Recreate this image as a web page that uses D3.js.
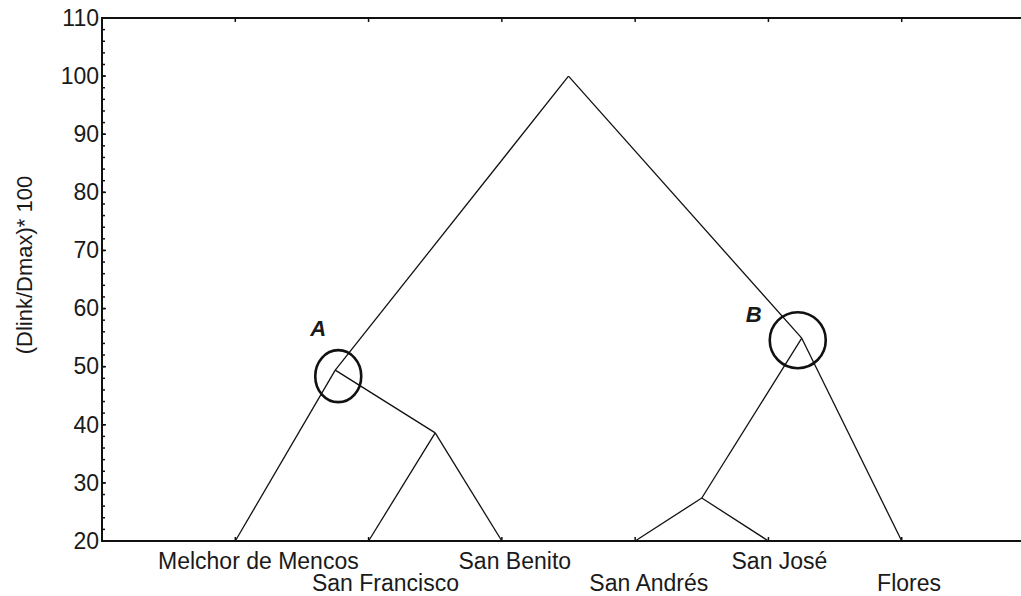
<!DOCTYPE html>
<html>
<head>
<meta charset="utf-8">
<script src="https://cdn.jsdelivr.net/npm/d3@7"></script>
<style>
  html, body { margin: 0; padding: 0; background: #fff; }
  svg { display: block; }
  text { font-family: "Liberation Sans", Arial, Helvetica, sans-serif; fill: #1a1a1a; }
</style>
</head>
<body>
<svg id="chart" width="1021" height="596"></svg>
<script>
// Leaves of the dendrogram, left to right
const categories = ["Melchor de Mencos", "San Francisco", "San Benito", "San Andrés", "San José", "Flores"];

// Linkage steps: cluster ids 0-5 are leaves, each merge creates id 6, 7, ...
const mergeLeft   = [1, 3, 0, 7, 8];
const mergeRight  = [2, 4, 6, 5, 9];
const mergeHeight = [38.6, 27.4, 49.4, 54.9, 100];

// Axis ticks
const yTicks = [20, 30, 40, 50, 60, 70, 80, 90, 100, 110];
const yMinorTicks = d3.range(20, 110.1, 2);

// Annotated clusters (merge index) and their letters
const markedMerges = [2, 3];
const markLetters  = ["A", "B"];

const svg = d3.select("#chart");
const plotLeft = 102, plotTop = 18, plotBottom = 541, plotRight = 1035;
const fontSize = 23;

const x = d3.scaleLinear().domain([0, categories.length + 1]).range([plotLeft, plotRight]);
const y = d3.scaleLinear().domain([20, 110]).range([plotBottom, plotTop]);

// Node positions: leaves sit on the baseline, merges at the midpoint of their children
const nodes = categories.map((c, i) => ({ x: i + 1, h: 20 }));
mergeLeft.forEach((a, i) => {
  const b = mergeRight[i];
  nodes.push({ x: (nodes[a].x + nodes[b].x) / 2, h: mergeHeight[i], a, b });
});

// Plot frame
svg.append("rect")
  .attr("x", plotLeft).attr("y", plotTop)
  .attr("width", plotRight - plotLeft).attr("height", plotBottom - plotTop)
  .attr("fill", "none").attr("stroke", "#111").attr("stroke-width", 2);

// Y axis: labelled major ticks and inward minor ticks
const yAxis = svg.append("g").attr("transform", `translate(${plotLeft},0)`);
yAxis.selectAll("line.minor").data(yMinorTicks).join("line")
  .attr("class", "minor")
  .attr("x1", 0).attr("x2", 3)
  .attr("y1", d => y(d)).attr("y2", d => y(d))
  .attr("stroke", "#111").attr("stroke-width", 1.5);
yAxis.selectAll("line.major").data(yTicks).join("line")
  .attr("class", "major")
  .attr("x1", -1).attr("x2", 4)
  .attr("y1", d => y(d)).attr("y2", d => y(d))
  .attr("stroke", "#111").attr("stroke-width", 1.5);
yAxis.selectAll("text").data(yTicks).join("text")
  .attr("x", -3).attr("y", d => y(d) + 7.8)
  .attr("text-anchor", "end")
  .attr("font-size", fontSize)
  .text(d => d);

// Category ticks on the bottom and top edges
const catIdx = categories.map((c, i) => i + 1);
svg.append("g").selectAll("line").data(catIdx).join("line")
  .attr("x1", d => x(d)).attr("x2", d => x(d))
  .attr("y1", plotBottom).attr("y2", plotBottom - 4)
  .attr("stroke", "#111").attr("stroke-width", 1.5);
svg.append("g").selectAll("line").data(catIdx).join("line")
  .attr("x1", d => x(d)).attr("x2", d => x(d))
  .attr("y1", plotTop).attr("y2", plotTop + 4)
  .attr("stroke", "#111").attr("stroke-width", 1.5);

// Category labels in two staggered rows
const catLabels = svg.append("g").selectAll("text").data(categories).join("text")
  .attr("font-size", fontSize)
  .attr("y", (d, i) => i % 2 === 0 ? 569 : 591)
  .text(d => d);
catLabels.attr("x", function (d, i) {
  return x(i + 1) - 0.385 * this.getComputedTextLength();
});

// Y axis title
svg.append("text")
  .attr("transform", "translate(32,265) rotate(-90)")
  .attr("text-anchor", "middle")
  .attr("font-size", 22)
  .text("(Dlink/Dmax)* 100");

// Dendrogram branches: straight lines from each merge to its two children
const branches = [];
nodes.forEach(n => {
  if (n.a === undefined) return;
  branches.push([n, nodes[n.a]]);
  branches.push([n, nodes[n.b]]);
});
svg.append("g").selectAll("line").data(branches).join("line")
  .attr("x1", d => x(d[0].x)).attr("y1", d => y(d[0].h))
  .attr("x2", d => x(d[1].x)).attr("y2", d => y(d[1].h))
  .attr("stroke", "#111").attr("stroke-width", 1.3);

// Highlighted clusters: ring around the merge point plus a letter
const ringShape = [{ dx: 3, dy: 6, rx: 23, ry: 26 }, { dx: -4, dy: 2, rx: 28, ry: 28 }];
const letterShift = [{ dx: -25, dy: -34 }, { dx: -56, dy: -16 }];
markedMerges.forEach((m, k) => {
  const n = nodes[categories.length + m];
  const cx = x(n.x), cy = y(n.h);
  svg.append("ellipse")
    .attr("cx", cx + ringShape[k].dx).attr("cy", cy + ringShape[k].dy)
    .attr("rx", ringShape[k].rx).attr("ry", ringShape[k].ry)
    .attr("fill", "none").attr("stroke", "#111").attr("stroke-width", 2.6);
  svg.append("text")
    .attr("x", cx + letterShift[k].dx).attr("y", cy + letterShift[k].dy)
    .attr("font-size", 22).attr("font-weight", "bold").attr("font-style", "italic")
    .text(markLetters[k]);
});
</script>
</body>
</html>
